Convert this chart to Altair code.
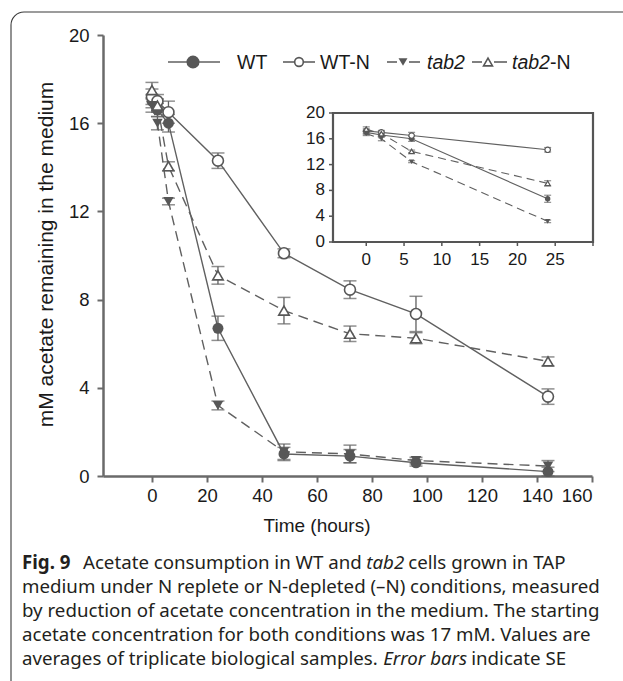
import altair as alt
import pandas as pd

# ---------------- data ----------------
times = [0, 2, 6, 24, 48, 72, 96, 144]
wt = [17.0, 16.6, 16.0, 6.7, 1.0, 0.9, 0.6, 0.2]
wt_se = [0.3, 0.3, 0.4, 0.55, 0.3, 0.3, 0.15, 0.2]
wt_n = [17.2, 17.0, 16.5, 14.3, 10.1, 8.45, 7.35, 3.6]
wt_n_se = [0.35, 0.3, 0.5, 0.35, 0.2, 0.4, 0.8, 0.35]
tab2 = [16.8, 16.0, 12.45, 3.2, 1.1, 1.0, 0.7, 0.45]
tab2_se = [0.3, 0.3, 0.15, 0.2, 0.35, 0.4, 0.15, 0.25]
tab2_n = [17.5, 16.8, 14.05, 9.1, 7.5, 6.45, 6.25, 5.2]
tab2_n_se = [0.35, 0.3, 0.2, 0.4, 0.6, 0.35, 0.25, 0.2]

series_names = ["WT", "WT-N", "tab2", "tab2-N"]
x_ticks = [0, 20, 40, 60, 80, 100, 120, 140, 160]
y_ticks = [0, 4, 8, 12, 16, 20]
inset_x_ticks = [0, 5, 10, 15, 20, 25, 30]
inset_x_labels = [0, 5, 10, 15, 20, 25]
inset_y_ticks = [0, 4, 8, 12, 16, 20]
inset_max_time = 24

x_title = "Time (hours)"
y_title = "mM acetate remaining in the medium"
# caption runs: (text, weight, style)
caption = [
    [("Fig. 9", "bold", "normal"), ("Acetate consumption in WT and", "normal", "normal"),
     ("tab2", "normal", "italic"), ("cells grown in TAP", "normal", "normal")],
    [("medium under N replete or N-depleted (\u2013N) conditions, measured", "normal", "normal")],
    [("by reduction of acetate concentration in the medium. The starting", "normal", "normal")],
    [("acetate concentration for both conditions was 17 mM. Values are", "normal", "normal")],
    [("averages of triplicate biological samples.", "normal", "normal"),
     ("Error bars", "normal", "italic"), ("indicate SE", "normal", "normal")],
]

rows = []
for name, vals, ses in zip(series_names, [wt, wt_n, tab2, tab2_n], [wt_se, wt_n_se, tab2_se, tab2_n_se]):
    for t, v, s in zip(times, vals, ses):
        rows.append({"series": name, "time": t, "value": v, "lo": v - s, "hi": v + s})
df = pd.DataFrame(rows)
df_in = df[df["time"] <= inset_max_time].reset_index(drop=True)

# ---------------- layout ----------------
L, T = 103, 35          # plot origin in page pixels
W, H = 489, 441
def px(x):
    return x - L
def py(y):
    return y - T

GRAY = "#575757"
LINE = "#606060"
AXIS = "#6a6a6a"
TXT = "#1a1a1a"
ARIAL = "Liberation Sans"
CAPF = "Noto Sans"

# approximate advance widths of Noto Sans (per 1000 em) used to place caption runs
NOTO_W = {' ': 260, 'a': 561, 'b': 615, 'c': 480, 'd': 615, 'e': 564, 'f': 344, 'g': 615, 'h': 618,
          'i': 258, 'j': 258, 'k': 534, 'l': 258, 'm': 937, 'n': 618, 'o': 605, 'p': 615, 'q': 615,
          'r': 413, 's': 479, 't': 361, 'u': 618, 'v': 508, 'w': 781, 'x': 529, 'y': 510, 'z': 470,
          'A': 639, 'E': 556, 'F': 583, 'N': 742, 'P': 603, 'S': 549, 'T': 556, 'V': 615, 'W': 901,
          'M': 907, '.': 268, ',': 258, '(': 296, ')': 296, '\u2013': 500, '-': 322}
def text_width(s, size, weight="normal", style="normal"):
    w = sum(NOTO_W.get(ch, 572) for ch in s) / 1000.0 * size
    if weight == "bold":
        w *= 1.06
    if style == "italic":
        w *= 0.94
    return w

# ---------------- main chart ----------------
xs = alt.Scale(domain=[-17.8, 160], nice=False, zero=False)
ys = alt.Scale(domain=[0, 20], nice=False, zero=False)
xax = alt.Axis(values=x_ticks, title=None, grid=False, labelFont=ARIAL, labelFontSize=18.5,
               labelColor=TXT, domainColor=AXIS, domainWidth=2.5, tickColor=AXIS, tickWidth=2,
               tickSize=6, labelPadding=4, format="d")
yax = alt.Axis(values=y_ticks, title=None, grid=False, labelFont=ARIAL, labelFontSize=18.5,
               labelColor=TXT, domainColor=AXIS, domainWidth=2.5, tickColor=AXIS, tickWidth=2,
               tickSize=6, labelPadding=8, format="d")

def XM(f="time"):
    return alt.X(f"{f}:Q", scale=xs, axis=xax)
def YM(f="value"):
    return alt.Y(f"{f}:Q", scale=ys, axis=yax)

base = alt.Chart(df)
solid = base.transform_filter(alt.FieldOneOfPredicate(field="series", oneOf=["WT", "WT-N"]))
dashed = base.transform_filter(alt.FieldOneOfPredicate(field="series", oneOf=["tab2", "tab2-N"]))

def one(name, chart=base):
    return chart.transform_filter(alt.datum.series == name)

main_layers = [
    solid.mark_line(color=LINE, strokeWidth=1.4).encode(x=XM(), y=YM(), detail="series:N"),
    dashed.mark_line(color=LINE, strokeWidth=1.4, strokeDash=[10, 6]).encode(x=XM(), y=YM(), detail="series:N"),
    base.mark_rule(color=LINE, strokeWidth=1.3).encode(x=XM(), y=YM("lo"), y2="hi:Q"),
    base.mark_tick(color=LINE, orient="horizontal", size=13, thickness=1.5).encode(x=XM(), y=YM("lo")),
    base.mark_tick(color=LINE, orient="horizontal", size=13, thickness=1.5).encode(x=XM(), y=YM("hi")),
    one("WT").mark_point(shape="circle", filled=True, size=120, color=GRAY, opacity=1).encode(x=XM(), y=YM()),
    one("WT-N").mark_point(shape="circle", fill="white", fillOpacity=1, stroke=GRAY, strokeWidth=1.6,
                           size=120, opacity=1).encode(x=XM(), y=YM()),
    one("tab2").mark_point(shape="triangle-down", filled=True, size=110, color=GRAY, opacity=1).encode(x=XM(), y=YM()),
    one("tab2-N").mark_point(shape="triangle-up", fill="white", fillOpacity=1, stroke=GRAY, strokeWidth=1.6,
                             size=110, opacity=1).encode(x=XM(), y=YM()),
]
main = alt.layer(*main_layers)

# ---------------- inset ----------------
ixs = alt.Scale(domain=[-4.4, 30], range=[px(333), px(593)], nice=False, zero=False)
iys = alt.Scale(domain=[0, 20], range=[py(242), py(113)], nice=False, zero=False)
def XI(f="time", t="Q"):
    return alt.X(f"{f}:{t}", scale=ixs, axis=None)
def YI(f="value", t="Q"):
    return alt.Y(f"{f}:{t}", scale=iys, axis=None)

ib = alt.Chart(df_in)
isolid = ib.transform_filter(alt.FieldOneOfPredicate(field="series", oneOf=["WT", "WT-N"]))
idashed = ib.transform_filter(alt.FieldOneOfPredicate(field="series", oneOf=["tab2", "tab2-N"]))
frame_df = pd.DataFrame({"x0": [-4.4], "x1": [30], "y0": [0], "y1": [20]})
ixt = pd.DataFrame({"t": inset_x_ticks})
ixl = pd.DataFrame({"t": inset_x_labels})
iyt = pd.DataFrame({"v": inset_y_ticks})

def ione(name):
    return ib.transform_filter(alt.datum.series == name)

inset_layers = [
    alt.Chart(frame_df).mark_rect(fill="white", stroke="#555555", strokeWidth=2.2).encode(
        x=XI("x0"), x2="x1:Q", y=YI("y0"), y2="y1:Q"),
    alt.Chart(iyt).mark_rule(color="#555555", strokeWidth=1.5).encode(
        y=YI("v"), x=alt.value(px(329)), x2=alt.value(px(333))),
    alt.Chart(ixt).mark_rule(color="#555555", strokeWidth=1.5).encode(
        x=XI("t"), y=alt.value(py(242)), y2=alt.value(py(246))),
    alt.Chart(iyt).mark_text(align="right", baseline="middle", font=ARIAL, fontSize=17, color=TXT).encode(
        y=YI("v"), x=alt.value(px(325)), text="v:Q"),
    alt.Chart(ixl).mark_text(align="center", baseline="middle", font=ARIAL, fontSize=17, color=TXT).encode(
        x=XI("t"), y=alt.value(py(260)), text="t:Q"),
    isolid.mark_line(color=LINE, strokeWidth=1.1).encode(x=XI(), y=YI(), detail="series:N"),
    idashed.mark_line(color=LINE, strokeWidth=1.1, strokeDash=[8, 5]).encode(x=XI(), y=YI(), detail="series:N"),
    ib.mark_rule(color=LINE, strokeWidth=1).encode(x=XI(), y=YI("lo"), y2="hi:Q"),
    ib.mark_tick(color=LINE, orient="horizontal", size=7, thickness=1.2).encode(x=XI(), y=YI("lo")),
    ib.mark_tick(color=LINE, orient="horizontal", size=7, thickness=1.2).encode(x=XI(), y=YI("hi")),
    ione("WT").mark_point(shape="circle", filled=True, size=30, color=GRAY, opacity=1).encode(x=XI(), y=YI()),
    ione("WT-N").mark_point(shape="circle", fill="white", fillOpacity=1, stroke=GRAY, strokeWidth=1.2,
                            size=30, opacity=1).encode(x=XI(), y=YI()),
    ione("tab2").mark_point(shape="triangle-down", filled=True, size=28, color=GRAY, opacity=1).encode(x=XI(), y=YI()),
    ione("tab2-N").mark_point(shape="triangle-up", fill="white", fillOpacity=1, stroke=GRAY, strokeWidth=1.2,
                              size=28, opacity=1).encode(x=XI(), y=YI()),
]
inset = alt.layer(*inset_layers)

# ---------------- decorations: legend, titles, caption, border ----------------
onerow = pd.DataFrame({"a": [0]})
def text(s, x, y, size, font=ARIAL, weight="normal", style="normal", align="left", angle=0, color=TXT):
    return alt.Chart(onerow).mark_text(text=s, align=align, baseline="alphabetic", font=font, fontSize=size,
                                       fontWeight=weight, fontStyle=style, color=color, angle=angle).encode(
        x=alt.value(px(x)), y=alt.value(py(y)))

def seg(x1, x2, y):
    m = alt.Chart(onerow).mark_rule(color=LINE, strokeWidth=1.6)
    return m.encode(x=alt.value(px(x1)), x2=alt.value(px(x2)), y=alt.value(py(y)))

def marker(x, y, shape, filled, size):
    if filled:
        m = alt.Chart(onerow).mark_point(shape=shape, filled=True, size=size, color=GRAY, opacity=1)
    else:
        m = alt.Chart(onerow).mark_point(shape=shape, fill="white", fillOpacity=1, stroke=GRAY,
                                         strokeWidth=1.6, size=size, opacity=1)
    return m.encode(x=alt.value(px(x)), y=alt.value(py(y)))

LY = 62
LB = 69
decor = [
    alt.Chart(onerow).mark_rect(fillOpacity=0, stroke="#3a3a3a", strokeWidth=1.1, cornerRadius=13).encode(
        x=alt.value(px(11)), x2=alt.value(px(760)), y=alt.value(py(12)), y2=alt.value(py(800))),
    # legend
    seg(168, 220, LY), marker(193, LY, "circle", True, 170), text("WT", 237, LB, 19.5),
    seg(283, 315, LY), marker(299, LY, "circle", False, 75), text("WT-N", 320, LB, 19.5),
    seg(387, 397, LY), seg(409, 420, LY), marker(403, LY, "triangle-down", True, 80),
    text("tab2", 427, LB, 19.5, style="italic"),
    seg(472, 482, LY), seg(494, 507, LY), marker(488, LY, "triangle-up", False, 80),
    text("tab2", 512, LB, 19.5, style="italic"), text("-N", 550, LB, 19.5),
    # axis titles
    text(x_title, 317, 532, 19, align="center"),
    text(y_title, 53, 254.5, 21, align="center", angle=270),
]
CAP_SIZE = 18.7
cap_left = 22
cap_base = 569
cap_step = 24
for i, line in enumerate(caption):
    x = cap_left
    for j, (s, w, st) in enumerate(line):
        decor.append(text(s, x, cap_base + i * cap_step, CAP_SIZE, font=CAPF, weight=w, style=st, color="#231f20"))
        gap = 0.55 if (i == 0 and j == 0) else 0.26
        x += text_width(s, CAP_SIZE, w, st) + gap * CAP_SIZE

chart = alt.layer(main, inset, *decor).resolve_scale(x="independent", y="independent").properties(
    width=W, height=H, padding={"left": L, "top": T, "right": 623 - L - W, "bottom": 681 - T - H},
    autosize=alt.AutoSizeParams(type="none"), background="white"
).configure_view(strokeWidth=0)

chart.save("out.html", embed_options={"renderer": "svg", "actions": False})
